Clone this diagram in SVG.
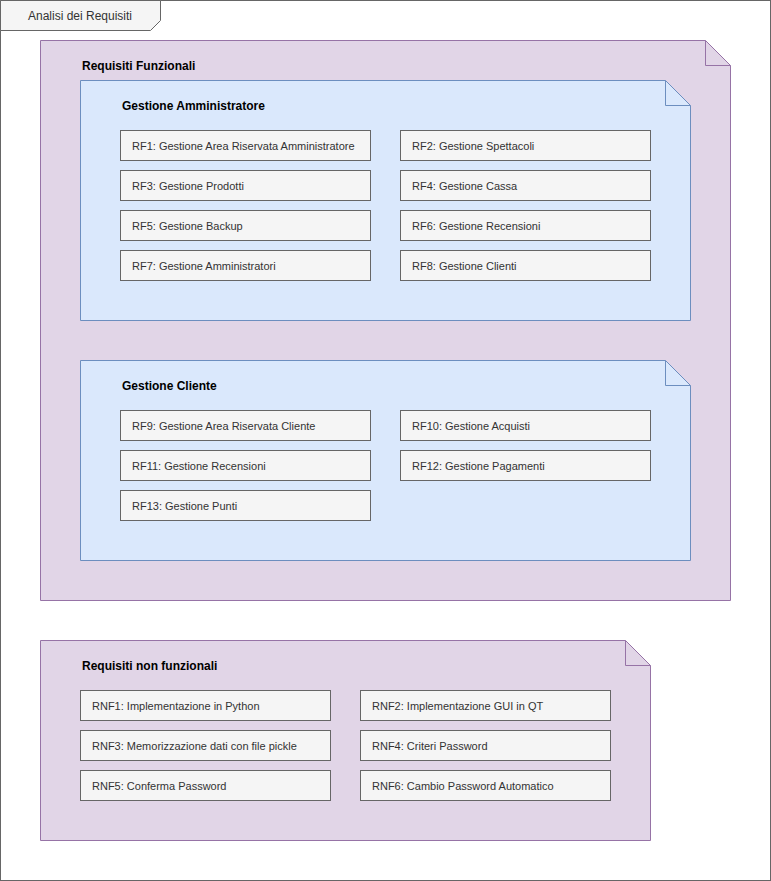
<svg xmlns="http://www.w3.org/2000/svg" width="771" height="881" viewBox="0 0 771 881">
<style>
text{font-family:"Liberation Sans",Arial,Helvetica,sans-serif;}
.pkg{fill:#e1d5e7;stroke:#9673a6;stroke-width:1;}
.sub{fill:#dae8fc;stroke:#6c8ebf;stroke-width:1;}
.fold{fill:none;}
.item{fill:#f5f5f5;stroke:#666666;stroke-width:1;}
.it{font-size:11px;fill:#333333;dominant-baseline:central;}
.tt{font-size:12px;font-weight:bold;fill:#000000;dominant-baseline:central;}
</style>
<rect x="0.5" y="0.5" width="770" height="880" fill="#ffffff" stroke="#666666"/>
<g id="frame-tab">
<path d="M0.5 0.5 H160.5 V20.5 L150.5 30.5 H0.5 Z" fill="#f5f5f5" stroke="#666666"/>
<text x="80" y="15.5" text-anchor="middle" style="font-size:12px;fill:#333333;dominant-baseline:central">Analisi dei Requisiti</text>
</g>
<g id="rf">
<path class="pkg" d="M40.5 40.5 H705.5 L730.5 65.5 V600.5 H40.5 Z"/>
<path class="pkg fold" d="M705.5 40.5 V65.5 H730.5"/>
<text class="tt" x="82" y="65.5">Requisiti Funzionali</text>
</g>
<g id="ga">
<path class="sub" d="M80.5 80.5 H665.5 L690.5 105.5 V320.5 H80.5 Z"/>
<path class="sub fold" d="M665.5 80.5 V105.5 H690.5"/>
<text class="tt" x="122" y="105.5">Gestione Amministratore</text>
</g>
<g id="rf1"><rect class="item" x="120.5" y="130.5" width="250" height="30"/><text class="it" x="132" y="145.5">RF1: Gestione Area Riservata Amministratore</text></g>
<g id="rf2"><rect class="item" x="400.5" y="130.5" width="250" height="30"/><text class="it" x="412" y="145.5">RF2: Gestione Spettacoli</text></g>
<g id="rf3"><rect class="item" x="120.5" y="170.5" width="250" height="30"/><text class="it" x="132" y="185.5">RF3: Gestione Prodotti</text></g>
<g id="rf4"><rect class="item" x="400.5" y="170.5" width="250" height="30"/><text class="it" x="412" y="185.5">RF4: Gestione Cassa</text></g>
<g id="rf5"><rect class="item" x="120.5" y="210.5" width="250" height="30"/><text class="it" x="132" y="225.5">RF5: Gestione Backup</text></g>
<g id="rf6"><rect class="item" x="400.5" y="210.5" width="250" height="30"/><text class="it" x="412" y="225.5">RF6: Gestione Recensioni</text></g>
<g id="rf7"><rect class="item" x="120.5" y="250.5" width="250" height="30"/><text class="it" x="132" y="265.5">RF7: Gestione Amministratori</text></g>
<g id="rf8"><rect class="item" x="400.5" y="250.5" width="250" height="30"/><text class="it" x="412" y="265.5">RF8: Gestione Clienti</text></g>
<g id="gc">
<path class="sub" d="M80.5 360.5 H665.5 L690.5 385.5 V560.5 H80.5 Z"/>
<path class="sub fold" d="M665.5 360.5 V385.5 H690.5"/>
<text class="tt" x="122" y="385.5">Gestione Cliente</text>
</g>
<g id="rf9"><rect class="item" x="120.5" y="410.5" width="250" height="30"/><text class="it" x="132" y="425.5">RF9: Gestione Area Riservata Cliente</text></g>
<g id="rf10"><rect class="item" x="400.5" y="410.5" width="250" height="30"/><text class="it" x="412" y="425.5">RF10: Gestione Acquisti</text></g>
<g id="rf11"><rect class="item" x="120.5" y="450.5" width="250" height="30"/><text class="it" x="132" y="465.5">RF11: Gestione Recensioni</text></g>
<g id="rf12"><rect class="item" x="400.5" y="450.5" width="250" height="30"/><text class="it" x="412" y="465.5">RF12: Gestione Pagamenti</text></g>
<g id="rf13"><rect class="item" x="120.5" y="490.5" width="250" height="30"/><text class="it" x="132" y="505.5">RF13: Gestione Punti</text></g>
<g id="rnf">
<path class="pkg" d="M40.5 640.5 H625.5 L650.5 665.5 V840.5 H40.5 Z"/>
<path class="pkg fold" d="M625.5 640.5 V665.5 H650.5"/>
<text class="tt" x="82" y="665.5">Requisiti non funzionali</text>
</g>
<g id="rnf1"><rect class="item" x="80.5" y="690.5" width="250" height="30"/><text class="it" x="92" y="705.5">RNF1: Implementazione in Python</text></g>
<g id="rnf2"><rect class="item" x="360.5" y="690.5" width="250" height="30"/><text class="it" x="372" y="705.5">RNF2: Implementazione GUI in QT</text></g>
<g id="rnf3"><rect class="item" x="80.5" y="730.5" width="250" height="30"/><text class="it" x="92" y="745.5">RNF3: Memorizzazione dati con file pickle</text></g>
<g id="rnf4"><rect class="item" x="360.5" y="730.5" width="250" height="30"/><text class="it" x="372" y="745.5">RNF4: Criteri Password</text></g>
<g id="rnf5"><rect class="item" x="80.5" y="770.5" width="250" height="30"/><text class="it" x="92" y="785.5">RNF5: Conferma Password</text></g>
<g id="rnf6"><rect class="item" x="360.5" y="770.5" width="250" height="30"/><text class="it" x="372" y="785.5">RNF6: Cambio Password Automatico</text></g>
<g id="connectors"></g>
</svg>
